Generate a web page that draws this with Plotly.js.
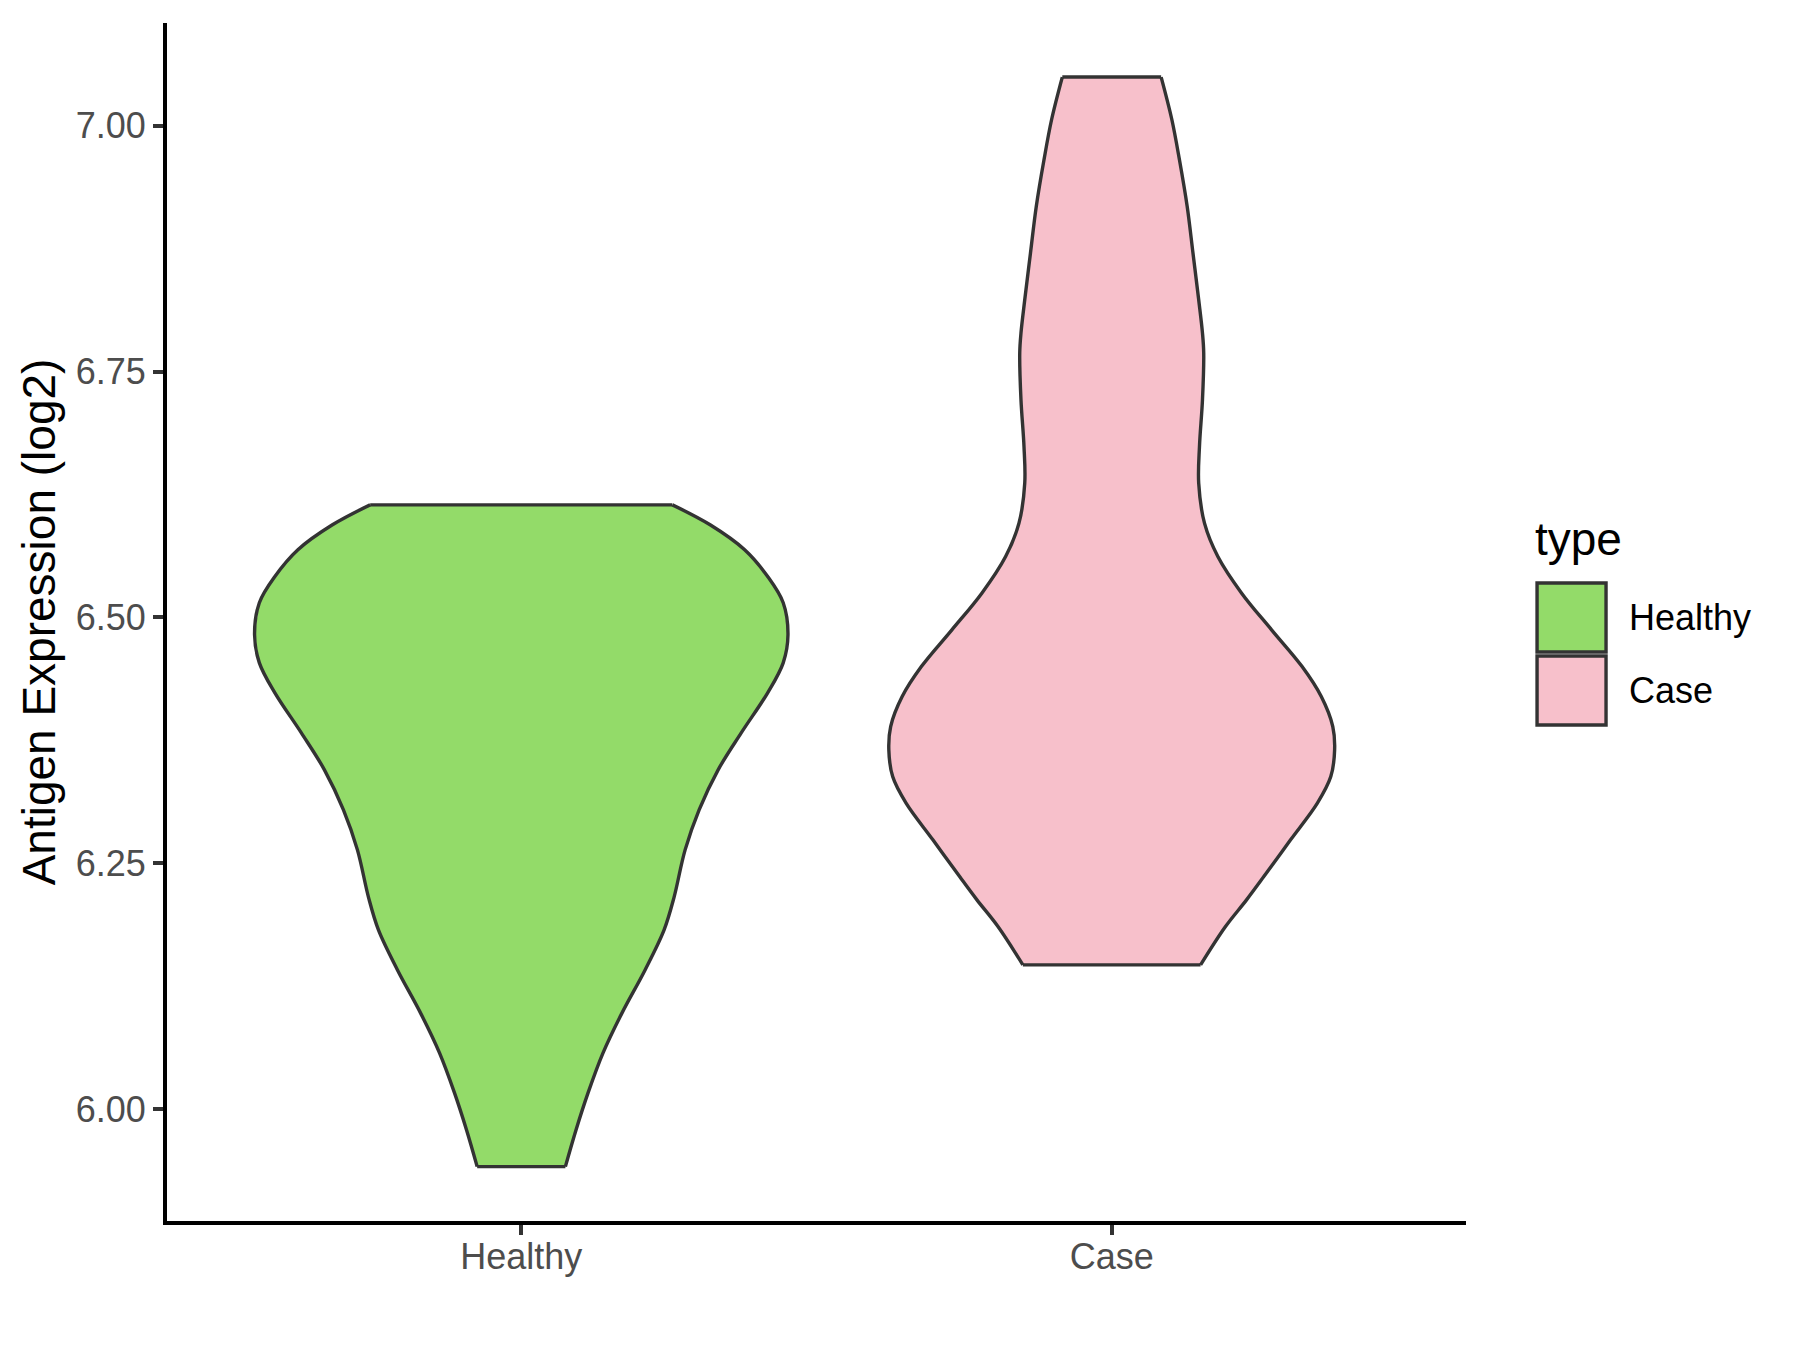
<!DOCTYPE html>
<html>
<head>
<meta charset="utf-8">
<script src="https://cdn.plot.ly/plotly-3.0.1.min.js"></script>
<style>html,body{margin:0;padding:0;background:#fff;}#chart{width:1800px;height:1350px;}</style>
</head>
<body>
<div id="chart"></div>
<script>
// ---- data ----
const categories = ["Healthy", "Case"];
const legendTitle = "type";
const yTitle = "Antigen Expression (log2)";
const yTickVals = [6.00, 6.25, 6.50, 6.75, 7.00];
const yTickText = ["6.00", "6.25", "6.50", "6.75", "7.00"];

// violin outline: expression level and half-width (in category units)
const healthyLevels = [5.9413, 5.9786, 6.0163, 6.0570, 6.0977, 6.1414, 6.1821, 6.2147, 6.2635, 6.3042,
  6.3449, 6.3825, 6.4232, 6.4537, 6.4822, 6.5148, 6.5415, 6.5687, 6.5941, 6.6144];
const healthyHalfWidth = [0.0747, 0.0927, 0.1131, 0.1385, 0.1707, 0.2097, 0.2419, 0.2585, 0.2775, 0.3012,
  0.3334, 0.3725, 0.4173, 0.4436, 0.4517, 0.4436, 0.4173, 0.3783, 0.3198, 0.2559];

const caseLevels = [6.1465, 6.1855, 6.2126, 6.2363, 6.2737, 6.3110, 6.3380, 6.3652, 6.3889, 6.4194,
  6.4499, 6.4873, 6.5246, 6.5619, 6.5958, 6.6365, 6.6738, 6.7213, 6.7688, 6.7891,
  6.8230, 6.8705, 6.9179, 6.9654, 7.0061, 7.0495];
const caseHalfWidth = [0.1505, 0.1927, 0.2283, 0.2576, 0.3029, 0.3483, 0.3710, 0.3775, 0.3744, 0.3549,
  0.3224, 0.2707, 0.2200, 0.1797, 0.1571, 0.1473, 0.1486, 0.1537, 0.1558, 0.1537,
  0.1473, 0.1376, 0.1278, 0.1147, 0.1019, 0.0837];

// ---- styles ----
const fillColors = ["#93DB69", "#F7C0CB"];
const outlineColor = "#333333";
const outlineWidth = 3.4;
const fontFamily = "Liberation Sans, Arial, sans-serif";

function violinTraces(pos, levels, hw, color, name) {
  const n = levels.length;
  // fill body (no stroke, straight segments so it never passes the trimmed ends)
  const fx = [], fy = [];
  for (let i = 0; i < n; i++) { fx.push(pos - hw[i]); fy.push(levels[i]); }
  for (let i = n - 1; i >= 0; i--) { fx.push(pos + hw[i]); fy.push(levels[i]); }
  fx.push(fx[0]); fy.push(fy[0]);
  const body = {
    type: "scatter", mode: "lines", x: fx, y: fy, name: name,
    fill: "toself", fillcolor: color,
    line: {color: color, width: 0},
    showlegend: false, hoverinfo: "skip"
  };
  // curved sides (open splines, so the flat ends keep sharp corners)
  const side = (sgn) => ({
    type: "scatter", mode: "lines",
    x: levels.map((v, i) => pos + sgn * hw[i]), y: levels.slice(),
    line: {color: outlineColor, width: outlineWidth, shape: "spline", smoothing: 1.0},
    showlegend: false, hoverinfo: "skip"
  });
  // flat trimmed ends
  const ends = {
    type: "scatter", mode: "lines",
    x: [pos - hw[0], pos + hw[0], null, pos - hw[n - 1], pos + hw[n - 1]],
    y: [levels[0], levels[0], null, levels[n - 1], levels[n - 1]],
    line: {color: outlineColor, width: outlineWidth},
    showlegend: false, hoverinfo: "skip"
  };
  return [body, side(-1), side(1), ends];
}

const traces = [].concat(
  violinTraces(1, healthyLevels, healthyHalfWidth, fillColors[0], categories[0]),
  violinTraces(2, caseLevels, caseHalfWidth, fillColors[1], categories[1])
);

// custom legend (ggplot style keys)
const shapes = [];
const annotations = [];
const keyX0 = 1.0547, keyX1 = 1.1078;
const keyTops = [0.5326, 0.4716];
const keyH = 0.0576;
categories.forEach((c, i) => {
  shapes.push({type: "rect", xref: "paper", yref: "paper",
    x0: keyX0, x1: keyX1, y0: keyTops[i] - keyH, y1: keyTops[i],
    fillcolor: fillColors[i], line: {color: outlineColor, width: 3.4}});
  annotations.push({xref: "paper", yref: "paper", x: 1.1240, y: keyTops[i] - keyH / 2,
    xanchor: "left", yanchor: "middle", showarrow: false, text: c,
    font: {family: fontFamily, size: 36, color: "#000000"}});
});
annotations.push({xref: "paper", yref: "paper", x: keyX0 - 0.003, y: 0.569,
  xanchor: "left", yanchor: "middle", showarrow: false, text: legendTitle,
  font: {family: fontFamily, size: 46, color: "#000000"}});

const layout = {
  width: 1800, height: 1350,
  margin: {l: 167, r: 334, t: 23, b: 129},
  paper_bgcolor: "#ffffff", plot_bgcolor: "#ffffff",
  font: {family: fontFamily},
  xaxis: {
    range: [0.4, 2.6], tickmode: "array", tickvals: [1, 2], ticktext: categories,
    showgrid: false, zeroline: false,
    showline: true, linecolor: "#000000", linewidth: 4,
    ticks: "outside", ticklen: 10, tickwidth: 4, tickcolor: outlineColor,
    ticklabelstandoff: -9,
    tickfont: {family: fontFamily, size: 36, color: "#4D4D4D"}
  },
  yaxis: {
    range: [5.886, 7.1045], tickmode: "array", tickvals: yTickVals, ticktext: yTickText,
    showgrid: false, zeroline: false,
    showline: true, linecolor: "#000000", linewidth: 4,
    ticks: "outside", ticklen: 10, tickwidth: 4, tickcolor: outlineColor,
    tickfont: {family: fontFamily, size: 36, color: "#4D4D4D"},
    title: {text: yTitle, font: {family: fontFamily, size: 46, color: "#000000"}, standoff: 7}
  },
  shapes: shapes,
  annotations: annotations,
  showlegend: false
};

Plotly.newPlot("chart", traces, layout, {displayModeBar: false, staticPlot: true});
</script>
</body>
</html>
